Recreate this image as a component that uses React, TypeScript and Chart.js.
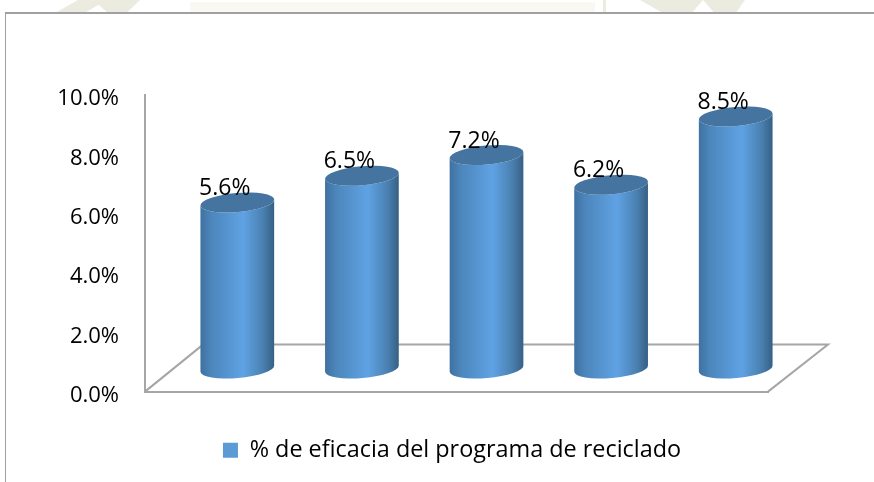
import React, { useEffect, useRef } from "react";
import { Chart, registerables } from "chart.js";

Chart.register(...registerables);

const categories = ["1", "2", "3", "4", "5"];
const seriesName = "% de eficacia del programa de reciclado";
const seriesValues = [5.6, 6.5, 7.2, 6.2, 8.5];
const valueLabels = ["5.6%", "6.5%", "7.2%", "6.2%", "8.5%"];

const FONT = '"Open Sans", sans-serif';
const AXIS = "#a6a6a6";
const DX = 30;
const DY = -23;
const RX = 37;
const RY = 9.5;
const TILT = (-5 * Math.PI) / 180;
const LEGEND_SHIFT = 68;

const cylinders = {
  id: "cylinders",
  afterLayout(chart: any) {
    chart.legend.left += LEGEND_SHIFT;
    chart.legend.right += LEGEND_SHIFT;
  },
  beforeDatasetsDraw(chart: any) {
    const { ctx, chartArea: a } = chart;
    ctx.save();
    ctx.strokeStyle = AXIS;
    ctx.lineWidth = 2;
    ctx.beginPath();
    ctx.moveTo(a.left, a.bottom);
    ctx.lineTo(a.left + 58, a.bottom - 47);
    ctx.lineTo(a.right + 60, a.bottom - 47);
    ctx.lineTo(a.right, a.bottom);
    ctx.stroke();
    ctx.restore();
  },
  beforeDatasetDraw(chart: any, args: any) {
    const { ctx } = chart;
    const meta = args.meta;
    meta.data.forEach((el: any, i: number) => {
      const cx = el.x + DX;
      const top = el.y + DY;
      const base = el.base + DY;
      const g = ctx.createLinearGradient(cx - RX, 0, cx + RX, 0);
      g.addColorStop(0, "#3f71a0");
      g.addColorStop(0.15, "#4c86bb");
      g.addColorStop(0.58, "#5fa2e4");
      g.addColorStop(0.85, "#4a80b0");
      g.addColorStop(1, "#365f84");
      ctx.save();
      ctx.fillStyle = g;
      ctx.beginPath();
      ctx.ellipse(cx, base, RX, RY, TILT, 0, Math.PI);
      ctx.ellipse(cx, top, RX, RY, TILT, Math.PI, 0, true);
      ctx.closePath();
      ctx.fill();
      ctx.fillStyle = "#44749f";
      ctx.beginPath();
      ctx.ellipse(cx, top, RX, RY, TILT, 0, Math.PI * 2);
      ctx.fill();
      ctx.fillStyle = "#000";
      ctx.font = `23px ${FONT}`;
      ctx.textAlign = "center";
      ctx.textBaseline = "middle";
      ctx.fillText(valueLabels[i], cx - 12.5, top - 14);
      ctx.restore();
    });
    return false;
  },
};

export default function App() {
  const ref = useRef<HTMLCanvasElement>(null);
  useEffect(() => {
    document.body.style.margin = "0";
    const chart = new Chart(ref.current!, {
      type: "bar",
      data: {
        labels: categories,
        datasets: [{ label: seriesName, data: seriesValues, backgroundColor: "#5b9bd5" }],
      },
      options: {
        animation: false,
        responsive: false,
        layout: { padding: { left: 0, right: 106, top: 95, bottom: 10 } },
        plugins: {
          tooltip: { enabled: false },
          legend: {
            position: "bottom",
            labels: { boxWidth: 15, boxHeight: 15, color: "#000", font: { family: FONT, size: 23.4 } },
          },
        },
        scales: {
          x: {
            grid: { display: false },
            border: { color: AXIS, width: 2 },
            ticks: { display: false },
            afterFit: (s: any) => { s.height = 37; },
          },
          y: {
            min: 0,
            max: 10,
            grid: { display: false },
            border: { color: AXIS, width: 2 },
            ticks: {
              stepSize: 2,
              color: "#000",
              padding: 18,
              labelOffset: 4,
              font: { family: FONT, size: 22 },
              callback: (v: any) => Number(v).toFixed(1) + "%",
            },
            afterFit: (s: any) => { s.width = 145; },
          },
        },
      },
      plugins: [cylinders],
    } as any);
    return () => chart.destroy();
  }, []);
  return (
    <div style={{ position: "relative", width: 874, height: 482, background: "#fff", overflow: "hidden" }}>
      <div style={{ position: "absolute", left: 57, top: 0, width: 83, height: 12, background: "#ecebdf", clipPath: "polygon(0 100%, 25% 0, 100% 0, 85% 100%, 60% 100%, 50% 40%, 35% 100%)" }} />
      <div style={{ position: "absolute", left: 190, top: 2, width: 405, height: 10, background: "#f9f8f3" }} />
      <div style={{ position: "absolute", left: 603, top: 0, width: 3, height: 12, background: "#ecebdf" }} />
      <div style={{ position: "absolute", left: 640, top: 0, width: 105, height: 12, background: "#ecebdf", clipPath: "polygon(0 0, 100% 0, 92% 100%, 70% 100%, 60% 0, 50% 100%, 20% 100%)" }} />
      <div style={{ position: "absolute", left: 5, top: 12, width: 869, height: 470, borderLeft: "1px solid #a0a0a0", borderTop: "2px solid #a0a0a0", boxSizing: "border-box" }} />
      <canvas ref={ref} width={874} height={482} style={{ position: "absolute", left: 0, top: 0 }} />
    </div>
  );
}
